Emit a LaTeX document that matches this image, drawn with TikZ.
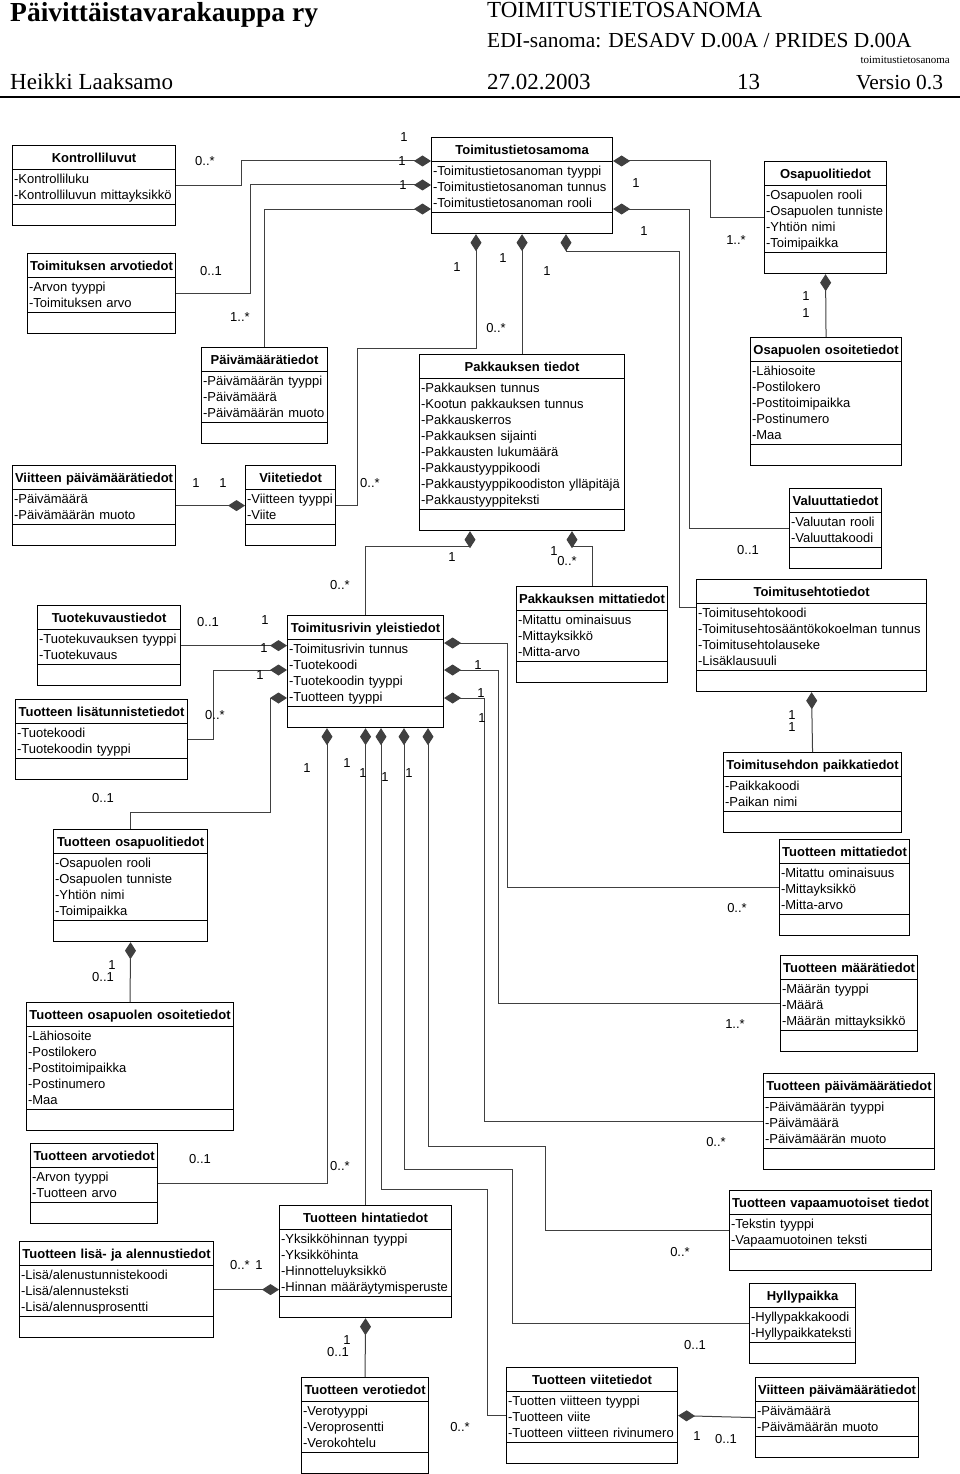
\documentclass[tikz,border=0pt]{standalone}
\usepackage{fontspec}
\setmainfont{Liberation Sans}
\newfontfamily\hdrfont{Liberation Serif}
\usetikzlibrary{arrows.meta,shapes.multipart}
\definecolor{linec}{gray}{0.25}

\newcommand{\ttl}[1]{\makebox[\linewidth]{\rule[-6.5pt]{0pt}{23pt}\bfseries #1}}
\newcommand{\atts}[1]{\begin{tabular}[t]{@{}l@{}}\rule{0pt}{13pt}#1\rule[-4.5pt]{0pt}{4.5pt}\end{tabular}}
\newcommand{\ops}{\rule{0pt}{20pt}}

\begin{document}
\begin{tikzpicture}[x=1pt,y=-1pt,
  cls/.style={rectangle split,rectangle split parts=3,draw,line width=1.1pt,inner xsep=1.5pt,inner ysep=0pt,text width=#1,align=left,anchor=north west,font=\fontsize{13}{16}\selectfont},
  comp/.style={draw=linec,line width=1pt,{Diamond[length=17pt,width=11pt]}-},
  mult/.style={font=\fontsize{13}{16}\selectfont,inner sep=0pt},
  hdr/.style={anchor=base west,inner sep=0pt}]
 \useasboundingbox (0,0) rectangle (960,1474);
 % page header
 \node[hdr,font=\hdrfont\bfseries\fontsize{27.5}{30}\selectfont] (org) at (10,22) {Päivittäistavarakauppa ry};
 \node[hdr,font=\hdrfont\fontsize{23}{26}\selectfont] (doc) at (487,18) {TOIMITUSTIETOSANOMA};
 \node[hdr,font=\hdrfont\fontsize{21.4}{24}\selectfont] (edi) at (487,48) {EDI-sanoma: DESADV D.00A / PRIDES D.00A};
 \node[hdr,anchor=base east,font=\hdrfont\fontsize{11}{12}\selectfont] (fname) at (950,64) {toimitustietosanoma};
 \node[hdr,font=\hdrfont\fontsize{23}{26}\selectfont] (auth) at (10,90) {Heikki Laaksamo};
 \node[hdr,font=\hdrfont\fontsize{23}{26}\selectfont] (date) at (487,90) {27.02.2003};
 \node[hdr,font=\hdrfont\fontsize{23}{26}\selectfont] (page) at (737,90) {13};
 \node[hdr,font=\hdrfont\fontsize{21.4}{24}\selectfont] (ver) at (856,90) {Versio 0.3};
 \draw[line width=2.5pt] (0,97) -- (960,97);

 % classes
 \node[cls=160pt] (kontr) at (12,145) {\ttl{Kontrolliluvut}\nodepart{two}\atts{-Kontrolliluku\\-Kontrolliluvun mittayksikkö}\nodepart{three}\ops};
 \node[cls=145pt] (arvo) at (27,253) {\ttl{Toimituksen arvotiedot}\nodepart{two}\atts{-Arvon tyyppi\\-Toimituksen arvo}\nodepart{three}\ops};
 \node[cls=178pt] (tts) at (431,137) {\ttl{Toimitustietosamoma}\nodepart{two}\atts{-Toimitustietosanoman tyyppi\\-Toimitustietosanoman tunnus\\-Toimitustietosanoman rooli}\nodepart{three}\ops};
 \node[cls=119pt] (osap) at (764,161) {\ttl{Osapuolitiedot}\nodepart{two}\atts{-Osapuolen rooli\\-Osapuolen tunniste\\-Yhtiön nimi\\-Toimipaikka}\nodepart{three}\ops};
 \node[cls=148pt] (osoite) at (750,337) {\ttl{Osapuolen osoitetiedot}\nodepart{two}\atts{-Lähiosoite\\-Postilokero\\-Postitoimipaikka\\-Postinumero\\-Maa}\nodepart{three}\ops};
 \node[cls=123pt] (pvm) at (201,347) {\ttl{Päivämäärätiedot}\nodepart{two}\atts{-Päivämäärän tyyppi\\-Päivämäärä\\-Päivämäärän muoto}\nodepart{three}\ops};
 \node[cls=160pt] (vpvm) at (12,465) {\ttl{Viitteen päivämäärätiedot}\nodepart{two}\atts{-Päivämäärä\\-Päivämäärän muoto}\nodepart{three}\ops};
 \node[cls=87pt] (viite) at (245,465) {\ttl{Viitetiedot}\nodepart{two}\atts{-Viitteen tyyppi\\-Viite}\nodepart{three}\ops};
 \node[cls=202pt] (pakt) at (419,354) {\ttl{Pakkauksen tiedot}\nodepart{two}\atts{-Pakkauksen tunnus\\-Kootun pakkauksen tunnus\\-Pakkauskerros\\-Pakkauksen sijainti\\-Pakkausten lukumäärä\\-Pakkaustyyppikoodi\\-Pakkaustyyppikoodiston ylläpitäjä\\-Pakkaustyyppiteksti}\nodepart{three}\ops};
 \node[cls=89pt] (valu) at (789,488) {\ttl{Valuuttatiedot}\nodepart{two}\atts{-Valuutan rooli\\-Valuuttakoodi}\nodepart{three}\ops};
 \node[cls=140pt] (kuva) at (37,605) {\ttl{Tuotekuvaustiedot}\nodepart{two}\atts{-Tuotekuvauksen tyyppi\\-Tuotekuvaus}\nodepart{three}\ops};
 \node[cls=169pt] (lisa) at (15,699) {\ttl{Tuotteen lisätunnistetiedot}\nodepart{two}\atts{-Tuotekoodi\\-Tuotekoodin tyyppi}\nodepart{three}\ops};
 \node[cls=153pt] (rivi) at (287,615) {\ttl{Toimitusrivin yleistiedot}\nodepart{two}\atts{-Toimitusrivin tunnus\\-Tuotekoodi\\-Tuotekoodin tyyppi\\-Tuotteen tyyppi}\nodepart{three}\ops};
 \node[cls=148pt] (pmit) at (516,586) {\ttl{Pakkauksen mittatiedot}\nodepart{two}\atts{-Mitattu ominaisuus\\-Mittayksikkö\\-Mitta-arvo}\nodepart{three}\ops};
 \node[cls=227pt] (ehto) at (696,579) {\ttl{Toimitusehtotiedot}\nodepart{two}\atts{-Toimitusehtokoodi\\-Toimitusehtosääntökokoelman tunnus\\-Toimitusehtolauseke\\-Lisäklausuuli}\nodepart{three}\ops};
 \node[cls=175pt] (paikka) at (723,752) {\ttl{Toimitusehdon paikkatiedot}\nodepart{two}\atts{-Paikkakoodi\\-Paikan nimi}\nodepart{three}\ops};
 \node[cls=151pt] (tosap) at (53,829) {\ttl{Tuotteen osapuolitiedot}\nodepart{two}\atts{-Osapuolen rooli\\-Osapuolen tunniste\\-Yhtiön nimi\\-Toimipaikka}\nodepart{three}\ops};
 \node[cls=204pt] (tosoite) at (26,1002) {\ttl{Tuotteen osapuolen osoitetiedot}\nodepart{two}\atts{-Lähiosoite\\-Postilokero\\-Postitoimipaikka\\-Postinumero\\-Maa}\nodepart{three}\ops};
 \node[cls=127pt] (tmit) at (779,839) {\ttl{Tuotteen mittatiedot}\nodepart{two}\atts{-Mitattu ominaisuus\\-Mittayksikkö\\-Mitta-arvo}\nodepart{three}\ops};
 \node[cls=134pt] (tmaa) at (780,955) {\ttl{Tuotteen määrätiedot}\nodepart{two}\atts{-Määrän tyyppi\\-Määrä\\-Määrän mittayksikkö}\nodepart{three}\ops};
 \node[cls=168pt] (tpvm) at (763,1073) {\ttl{Tuotteen päivämäärätiedot}\nodepart{two}\atts{-Päivämäärän tyyppi\\-Päivämäärä\\-Päivämäärän muoto}\nodepart{three}\ops};
 \node[cls=124pt] (tarvo) at (30,1143) {\ttl{Tuotteen arvotiedot}\nodepart{two}\atts{-Arvon tyyppi\\-Tuotteen arvo}\nodepart{three}\ops};
 \node[cls=191pt] (alen) at (19,1241) {\ttl{Tuotteen lisä- ja alennustiedot}\nodepart{two}\atts{-Lisä/alenustunnistekoodi\\-Lisä/alennusteksti\\-Lisä/alennusprosentti}\nodepart{three}\ops};
 \node[cls=169pt] (hinta) at (279,1205) {\ttl{Tuotteen hintatiedot}\nodepart{two}\atts{-Yksikköhinnan tyyppi\\-Yksikköhinta\\-Hinnotteluyksikkö\\-Hinnan määräytymisperuste}\nodepart{three}\ops};
 \node[cls=199pt] (vapaa) at (729,1190) {\ttl{Tuotteen vapaamuotoiset tiedot}\nodepart{two}\atts{-Tekstin tyyppi\\-Vapaamuotoinen teksti}\nodepart{three}\ops};
 \node[cls=103pt] (hylly) at (749,1283) {\ttl{Hyllypaikka}\nodepart{two}\atts{-Hyllypakkakoodi\\-Hyllypaikkateksti}\nodepart{three}\ops};
 \node[cls=124pt] (vero) at (301,1377) {\ttl{Tuotteen verotiedot}\nodepart{two}\atts{-Verotyyppi\\-Veroprosentti\\-Verokohtelu}\nodepart{three}\ops};
 \node[cls=168pt] (tviite) at (506,1367) {\ttl{Tuotteen viitetiedot}\nodepart{two}\atts{-Tuotten viitteen tyyppi\\-Tuotteen viite\\-Tuotteen viitteen rivinumero}\nodepart{three}\ops};
 \node[cls=160pt] (vpvm2) at (755,1377) {\ttl{Viitteen päivämäärätiedot}\nodepart{two}\atts{-Päivämäärä\\-Päivämäärän muoto}\nodepart{three}\ops};

 % compositions, diamond at the owner
 \draw[comp] (tts.west |- 0,161) -- (241,161) |- (kontr.east);
 \draw[comp] (tts.west |- 0,185) -- (250,185) |- (arvo.east);
 \draw[comp] (tts.west |- 0,209) -| (pvm.north);
 \draw[comp] (tts.east |- 0,161) -- (710,161) |- (osap.west);
 \draw[comp] (tts.east |- 0,209) -- (689,209) |- (valu.west);
 \draw[comp] (tts.south -| 476,0) |- (357,348) |- (viite.east);
 \draw[comp] (tts.south) -- (pakt.north);
 \draw[comp] (tts.south -| 566,0) |- (679,251) |- (ehto.west |- 0,607);
 \draw[comp] (osap.south) -- (osoite.north);
 \draw[comp] (viite.west) -- (vpvm.east);
 \draw[comp] (pakt.south -| 470,0) |- (rivi.north |- 0,546) -- (rivi.north);
 \draw[comp] (pakt.south -| 572,0) |- (pmit.north |- 0,546) -- (pmit.north);
 \draw[comp] (ehto.south) -- (paikka.north);
 \draw[comp] (rivi.west |- kuva.east) -- (kuva.east);
 \draw[comp] (rivi.west |- 0,670) -- (213,670) |- (lisa.east);
 \draw[comp] (rivi.west |- 0,698) -- (270,698) |- (tosap.north |- 0,812) -- (tosap.north);
 \draw[comp] (tosap.south) -- (tosoite.north);
 \draw[comp] (rivi.east |- 0,643) -- (507,643) |- (tmit.west);
 \draw[comp] (rivi.east |- 0,670) -- (498,670) |- (tmaa.west);
 \draw[comp] (rivi.east |- 0,698) -- (484,698) |- (tpvm.west);
 \draw[comp] (rivi.south -| 327,0) |- (tarvo.east);
 \draw[comp] (rivi.south) -- (hinta.north);
 \draw[comp] (rivi.south -| 381,0) |- (487,1189) |- (tviite.west);
 \draw[comp] (rivi.south -| 404,0) |- (512,1169) |- (hylly.west);
 \draw[comp] (rivi.south -| 428,0) |- (545,1146) |- (vapaa.west);
 \draw[comp] (hinta.west |- alen.east) -- (alen.east);
 \draw[comp] (hinta.south) -- (vero.north);
 \draw[comp] (tviite.east) -- (vpvm2.west);

 % multiplicities
 \foreach \x/\y/\t [count=\i] in {404/137/1,402/161/1,403/185/1,205/161/0..*,211/271/0..1,240/317/1..*,
   636/183/1,736/240/1..*,644/231/1,457/267/1,503/258/1,547/271/1,496/328/0..*,806/296/1,806/313/1,
   196/483/1,223/483/1,370/483/0..*,748/550/0..1,452/557/1,554/551/1,567/561/0..*,340/585/0..*,
   208/622/0..1,265/620/1,264/648/1,260/675/1,215/715/0..*,103/798/0..1,478/665/1,481/693/1,482/718/1,
   307/768/1,347/763/1,363/773/1,385/777/1,409/773/1,792/715/1,792/727/1,112/965/1,103/977/0..1,
   737/908/0..*,735/1024/1..*,716/1142/0..*,200/1159/0..1,340/1166/0..*,240/1265/0..*,259/1265/1,
   347/1340/1,338/1352/0..1,680/1252/0..*,695/1345/0..1,460/1427/0..*,697/1436/1,726/1439/0..1}
   \node[mult] (ml\i) at (\x,\y) {\t};
\end{tikzpicture}
\end{document}
